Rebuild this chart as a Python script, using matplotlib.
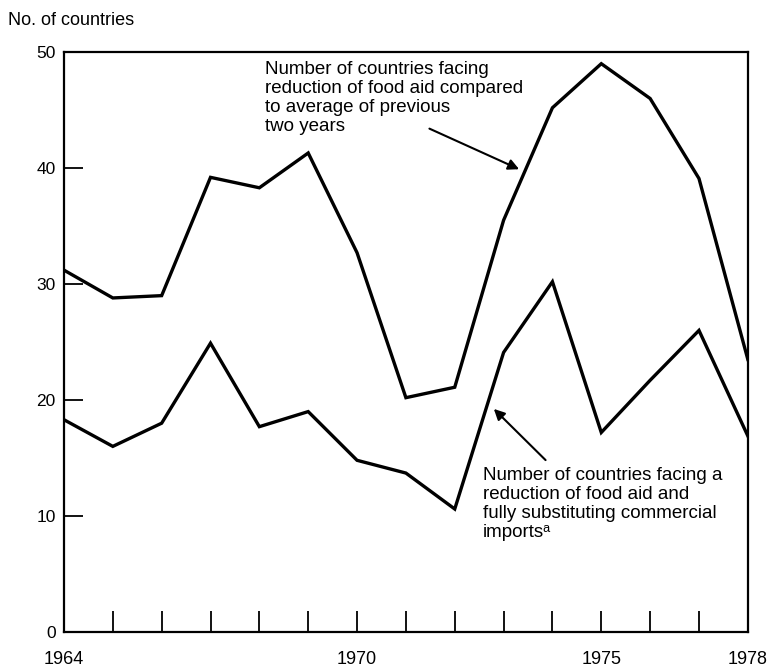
import matplotlib
matplotlib.use("Agg")
import matplotlib.pyplot as plt

plt.rcParams['font.family'] = ['Liberation Sans', 'DejaVu Sans']

years = list(range(1964, 1979))
reduced = [31.2, 28.8, 29.0, 39.2, 38.3, 41.3, 32.7, 20.2, 21.1, 35.5, 45.2, 49.0, 46.0, 39.1, 23.5]
substituting = [18.3, 16.0, 18.0, 24.9, 17.7, 19.0, 14.8, 13.7, 10.6, 24.1, 30.2, 17.2, 21.7, 26.0, 16.9]

y_ticks = [0, 10, 20, 30, 40, 50]
x_labels = {1964: '1964', 1970: '1970', 1975: '1975', 1978: '1978'}

fig = plt.figure(figsize=(7.67, 6.68), dpi=100)
ax = fig.add_axes([0.0834, 0.054, 0.8916, 0.868])

ax.plot(years, reduced, color='black', lw=2.4, solid_joinstyle='miter')
ax.plot(years, substituting, color='black', lw=2.4, solid_joinstyle='miter')

ax.set_xlim(1964, 1978)
ax.set_ylim(0, 50)

ax.set_xticks(years)
ax.set_xticklabels([x_labels.get(y, '') for y in years])
ax.set_yticks(y_ticks)
ax.tick_params(axis='x', direction='in', length=15, width=1.3, pad=14, labelsize=13)
ax.tick_params(axis='y', direction='in', length=14, width=1.3, pad=6, labelsize=12.5)
for s in ax.spines.values():
    s.set_linewidth(1.6)

fig.text(0.01, 0.982, 'No. of countries', fontsize=13, va='top', ha='left')

ax.text(1968.11, 49.2,
        'Number of countries facing\nreduction of food aid compared\nto average of previous\ntwo years',
        fontsize=13.5, va='top', ha='left', linespacing=1.15)
ax.annotate('', xy=(1973.37, 39.8), xytext=(1971.43, 43.5),
            arrowprops=dict(arrowstyle='-|>', color='black', lw=1.5, mutation_scale=16))

ax.text(1972.58, 14.2,
        'Number of countries facing a\nreduction of food aid and\nfully substituting commercial\nimports\u1d43',
        fontsize=13.5, va='top', ha='left', linespacing=1.15)
ax.annotate('', xy=(1972.76, 19.4), xytext=(1973.9, 14.65),
            arrowprops=dict(arrowstyle='-|>', color='black', lw=1.5, mutation_scale=16))

fig.savefig('out.png', dpi=100)
